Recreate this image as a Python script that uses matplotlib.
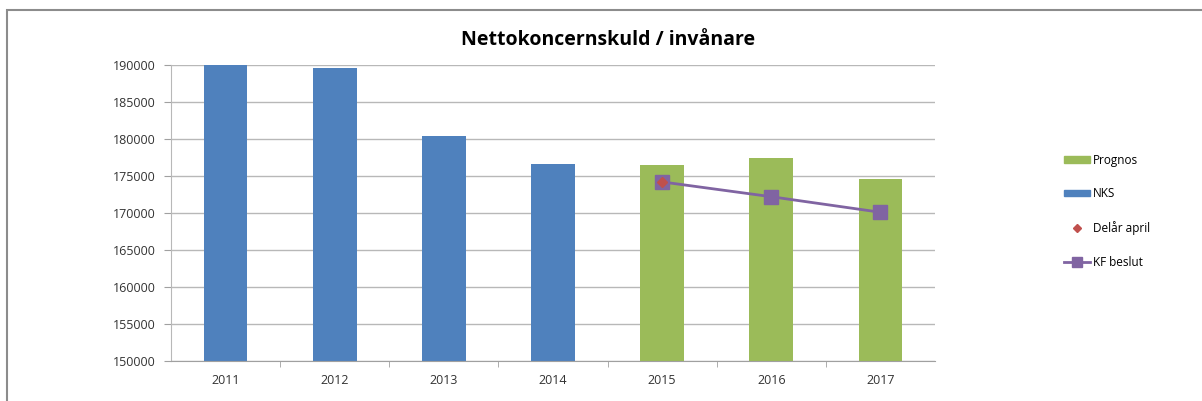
import matplotlib
matplotlib.use("Agg")
import matplotlib.pyplot as plt
from matplotlib.patches import Patch, Rectangle
from matplotlib.lines import Line2D

years = ["2011", "2012", "2013", "2014", "2015", "2016", "2017"]
nks = [193000, 189600, 180400, 176600, None, None, None]
prognos = [None, None, None, None, 176500, 177400, 174600]
delar_april = [None, None, None, None, 174200, None, None]
kf_beslut = [None, None, None, None, 174200, 172200, 170100]

plt.rcParams['font.family'] = ['Open Sans', 'DejaVu Sans']

fig = plt.figure(figsize=(12.02, 4.01), dpi=100)
ax = fig.add_axes([171/1202, 40/401, (935-171)/1202, (361-65)/401])

x = list(range(len(years)))
blue = "#4F81BD"; green = "#9BBB59"; purple = "#8064A2"; red = "#C0504D"
w = 0.4
ax.bar([i for i in x if nks[i] is not None], [v for v in nks if v is not None],
       width=w, color=blue, zorder=2)
ax.bar([i for i in x if prognos[i] is not None], [v for v in prognos if v is not None],
       width=w, color=green, zorder=2)
kx = [i for i in x if kf_beslut[i] is not None]
ax.plot(kx, [v for v in kf_beslut if v is not None], color=purple, lw=2,
        marker='s', markersize=10, zorder=3)
dx = [i for i in x if delar_april[i] is not None]
ax.plot(dx, [v for v in delar_april if v is not None], ls='none', marker='D',
        color=red, markersize=5, zorder=4)

ax.set_xlim(-0.5, len(years) - 0.5)
ax.set_ylim(150000, 190000)
ax.set_yticks(range(150000, 190001, 5000))
ax.set_yticklabels([str(v) for v in range(150000, 190001, 5000)])
ax.set_xticks(x)
ax.set_xticklabels(years)
ax.set_xticks([i + 0.5 for i in x[:-1]], minor=True)
ax.tick_params(axis='x', which='major', length=0, labelsize=9, pad=9, labelcolor='#333333')
ax.tick_params(axis='x', which='minor', length=4, color='#A0A0A0')
ax.tick_params(axis='y', length=5, color='#A0A0A0', labelsize=9, pad=6, labelcolor='#333333')
ax.grid(axis='y', color='#B8B8B8', lw=1, zorder=0)
for s in ['top', 'right']:
    ax.spines[s].set_visible(False)
ax.spines['left'].set_color('#B8B8B8')
ax.spines['bottom'].set_color('#A0A0A0')
fig.text(608/1202, 1 - 40/401, "Nettokoncernskuld / invånare", fontsize=14,
         fontweight='bold', ha='center', va='center')

handles = [Patch(color=green, label="Prognos"),
           Patch(color=blue, label="NKS"),
           Line2D([], [], ls='none', marker='D', color=red, markersize=4, label="Delår april"),
           Line2D([], [], color=purple, lw=2, marker='s', markersize=7, label="KF beslut")]
fig.legend(handles=handles, loc='upper left', bbox_to_anchor=(1053/1202, 1 - 143/401),
           frameon=False, fontsize=8.5, labelspacing=1.75, handlelength=2.2, handleheight=0.5,
           handletextpad=0.3)

fig.add_artist(Rectangle((7/1202, -0.01), 1.0, 1 - 10/401 + 0.01, transform=fig.transFigure,
                         fill=False, edgecolor='#8C8C8C', lw=1.5))

fig.savefig("out.png", dpi=100)
